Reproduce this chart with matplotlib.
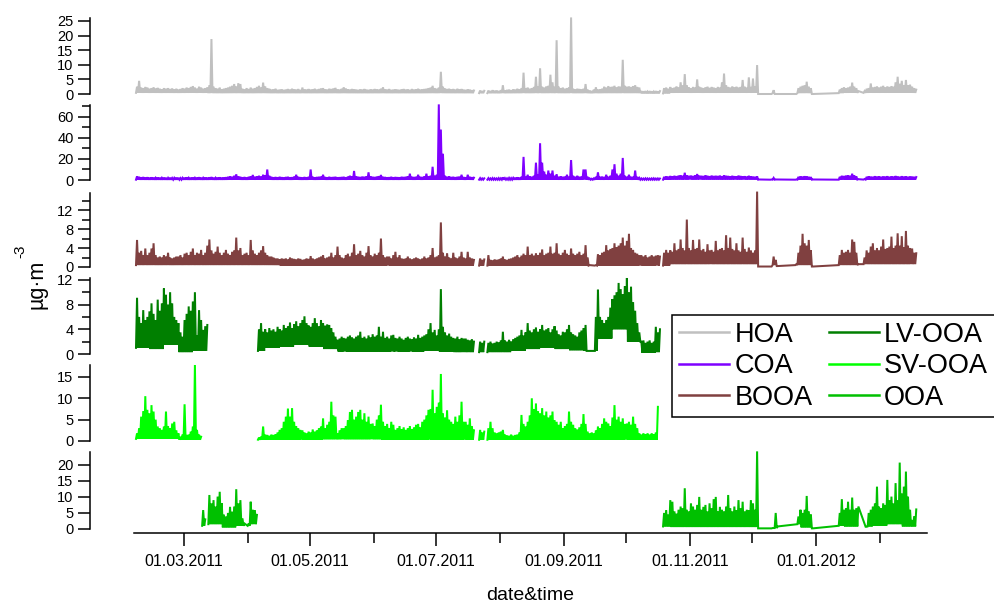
import numpy as np
import matplotlib
matplotlib.use('Agg')
import matplotlib.pyplot as plt
import matplotlib.dates as mdates
from matplotlib.lines import Line2D
from matplotlib.ticker import FixedLocator, NullLocator

plt.rcParams['font.family'] = ['Liberation Sans', 'DejaVu Sans']
plt.rcParams['mathtext.default'] = 'regular'

nan = np.nan
# day 0 = 06.02.2011 ; one "hi" value per day (daily peak), -1 = no sample (line joins), nan = break
start_date = '2011-02-06'
names = ['HOA', 'COA', 'BOOA', 'LV-OOA', 'SV-OOA', 'OOA']
colors = ['#c0c0c0', '#7f00ff', '#804040', '#007f00', '#00ff00', '#00c000']

hoa_hi = [
 2.5, 4.5, 2.2, 2.0, 2.4, 2.2, 1.8, 2.0, 2.3, 1.9, 2.1, 1.8, 1.6, 2.0,
 1.8, 2.0, 1.7, 1.9, 1.6, 1.8, 1.5, 1.7, 2.0, 1.8, 2.2, 2.0, 2.4, 2.7,
 2.2, 1.8, 2.5, 2.2, 1.8, 2.0, 2.3, 3.0, 18.8, 2.5, 2.0, 1.8, 2.2, 1.6,
 1.8, 2.0, 2.2, 2.5, 2.8, 3.4, 2.6, 3.7, 3.4, 1.8, 1.6, 2.0, 1.7, 2.2,
 1.8, 2.0, 2.4, 2.8, 2.2, 3.9, 2.6, 2.0, 1.8, 1.5, 1.6, 1.8, 1.4, 1.5,
 1.6, 1.4, 1.5, 1.7, 1.5, 1.8, 1.6, 1.5, 1.7, 1.4, 2.2, 1.6, 1.5, 1.7,
 1.5, 1.6, 1.8, 1.5, 1.7, 1.9, 2.0, 1.6, 1.5, 1.8, 1.7, 1.9, 2.1, 1.6,
 1.5, 1.8, 2.3, 1.9, 1.6, 1.5, 1.7, 1.6, 1.5, 1.4, 1.6, 1.5, 1.7, 1.5,
 1.4, 1.6, 1.5, 1.7, 1.6, 1.5, 1.8, 2.3, 1.6, 1.5, 1.7, 1.4, 1.5, 1.6,
 1.5, 1.4, 1.6, 1.7, 1.5, 1.6, 1.4, 1.7, 1.5, 1.6, 1.8, 1.5, 1.6, 1.7,
 1.8, 2.0, 2.2, 2.8, 2.0, 1.8, 2.2, 7.6, 2.5, 1.9, 1.7, 1.8, 1.6, 1.7,
 1.5, 1.8, 1.6, 1.7, 1.5, 1.4, 1.6, 1.5, 1.3, 1.2, nan, nan, 1.2, 1.0,
 1.1, nan, 1.2, 1.0, 1.3, 1.1, 1.2, 1.0, 1.3, 3.0, 1.2, 1.4, 1.5, 1.3,
 1.6, 1.5, 1.8, 1.6, 2.0, 7.3, 2.0, 2.2, 1.8, 2.0, 2.4, 5.9, 2.5, 8.8,
 2.5, 2.2, 2.6, 2.8, 6.6, 4.0, 2.5, 18.4, 2.5, 2.0, 2.2, 1.8, 2.0, 2.3,
 26.2, 1.8, 1.6, 1.8, 1.7, 1.6, 1.8, 3.4, 1.5, 1.2, 1.0, 1.5, 2.3, 1.5,
 1.6, 1.8, 2.5, 2.2, 2.7, 2.4, 2.5, 2.8, 2.3, 2.6, 2.5, 11.7, 2.8, 2.5,
 2.6, 2.4, 2.7, 3.0, 2.4, 2.2, 1.0, 0.9, 1.0, 0.8, 1.0, 0.9, 0.8, 1.0,
 0.9, 1.0, nan, 2.0, 2.2, 1.8, 2.4, 2.0, 2.2, 2.6, 2.3, 4.0, 3.0, 6.8,
 3.0, 2.3, 2.0, 2.4, 2.2, 5.0, 2.5, 2.2, 2.0, 2.3, 2.5, 2.1, 2.4, 2.2,
 2.0, 2.4, 2.2, 4.0, 7.0, 3.0, 2.4, 2.2, 2.6, 2.3, 2.5, 2.2, 2.4, 4.8,
 2.5, 2.2, 5.7, 2.4, 5.3, 2.5, 9.9, 0.0, -1, -1, -1, -1, -1, 0.0,
 1.3, 0.0, -1, -1, -1, -1, -1, -1, -1, -1, -1, 0.0, 2.0, 2.5,
 2.8, 3.0, 4.2, 2.5, 2.0, 0.0, -1, -1, -1, -1, -1, -1, -1, -1,
 -1, -1, -1, -1, 1.5, 2.0, 2.3, 2.0, 2.2, 2.5, 3.9, 2.5, 2.0, 1.0,
 -1, -1, 1.0, 1.8, 2.0, 3.6, 2.2, 2.4, 2.6, 2.2, 2.5, 2.8, 2.3, 2.6,
 2.4, 2.7, 2.5, 4.0, 5.9, 3.5, 4.5, 3.0, 4.8, 3.0, 3.2, 2.5, 2.0, 1.5,
]
coa_hi = [
 3.5, 3.0, 2.5, 2.8, 2.4, 2.6, 2.2, 2.5, 2.3, 2.0, 2.4, 2.2, 2.0, 2.3,
 2.1, 2.0, 2.2, 1.9, 2.0, 2.3, 2.1, 1.8, 2.0, 2.2, 2.5, 2.0, 2.2, 2.4,
 2.0, 2.3, 2.6, 2.2, 2.0, 2.4, 2.2, 2.5, 2.8, 2.2, 2.0, 2.3, 2.5, 2.2,
 2.4, 2.6, 3.0, 3.5, 3.0, 4.0, 5.4, 3.5, 3.0, 2.5, 2.8, 2.4, 3.0, 3.5,
 4.8, 3.0, 3.5, 4.0, 3.2, 5.0, 4.5, 10.0, 4.0, 3.0, 2.5, 2.8, 2.5, 3.0,
 2.6, 2.4, 2.8, 3.0, 2.5, 2.6, 3.2, 5.0, 3.0, 2.6, 2.4, 2.8, 2.5, 3.0,
 10.0, 3.0, 2.5, 2.8, 3.0, 3.2, 5.0, 2.8, 2.5, 3.0, 2.6, 2.8, 3.0, 2.5,
 2.6, 2.8, 3.0, 2.5, 3.2, 4.0, 3.5, 8.6, 3.5, 3.0, 2.8, 3.2, 3.0, 3.5,
 7.3, 3.5, 3.0, 2.8, 3.2, 3.6, 4.8, 3.0, 2.8, 2.5, 2.6, 3.0, 2.5, 2.8,
 2.6, 2.5, 3.0, 2.8, 3.0, 3.5, 6.0, 3.0, 2.8, 3.0, 5.0, 3.0, 2.8, 3.5,
 6.0, 3.5, 4.0, 12.6, 4.0, 5.0, 72.0, 48.0, 25.0, 4.0, 3.0, 3.5, 2.8, 3.0,
 2.6, 3.0, 3.2, 5.0, 2.8, 2.5, 5.0, 3.0, 2.6, 2.2, nan, nan, 1.8, 1.5,
 1.6, nan, 1.8, 1.5, 1.8, 1.6, 1.5, 1.8, 1.6, 2.5, 1.8, 1.6, 2.0, 1.8,
 2.0, 2.2, 2.5, 2.2, 3.0, 22.0, 3.0, 5.0, 3.5, 3.0, 4.0, 16.5, 5.0, 35.0,
 16.5, 8.0, 5.0, 9.0, 6.0, 9.0, 4.0, 5.5, 3.0, 3.5, 3.0, 3.2, 5.0, 3.0,
 19.0, 4.0, 3.0, 4.0, 3.0, 3.2, 10.0, 10.0, 3.0, 1.5, 1.2, 1.5, 3.0, 7.3,
 3.0, 3.2, 2.8, 5.0, 3.0, 4.0, 10.0, 15.0, 6.0, 4.0, 6.0, 21.0, 4.0, 3.0,
 5.0, 3.0, 3.0, 9.0, 3.0, 2.0, 1.5, 1.4, 1.6, 1.5, 1.4, 1.5, 1.6, 1.4,
 1.5, 1.4, nan, 3.0, 3.5, 3.2, 3.8, 3.5, 4.0, 3.6, 4.2, 4.5, 4.0, 6.9,
 4.5, 4.0, 4.2, 3.8, 4.5, 5.7, 4.2, 4.0, 3.8, 4.5, 4.0, 3.6, 4.2, 3.8,
 4.0, 3.8, 4.2, 3.6, 4.5, 4.0, 3.8, 3.5, 4.0, 3.6, 3.5, 4.2, 3.8, 3.5,
 3.6, 3.2, 4.0, 3.5, 3.2, 3.0, 3.5, 0.5, -1, -1, -1, -1, -1, 0.5,
 2.0, 0.5, -1, -1, -1, -1, -1, -1, -1, -1, -1, 0.5, 3.0, 3.5,
 3.2, 3.6, 3.5, 3.0, 2.8, 0.5, -1, -1, -1, -1, -1, -1, -1, -1,
 -1, -1, -1, -1, 3.0, 4.0, 3.8, 4.2, 4.5, 4.0, 6.0, 4.5, 3.5, 0.8,
 -1, -1, 1.0, 3.0, 3.5, 3.2, 3.0, 3.6, 3.2, 3.5, 3.0, 3.4, 3.2, 3.6,
 3.0, 3.5, 3.2, 3.8, 3.4, 3.0, 3.6, 3.2, 3.5, 3.0, 3.4, 3.2, 3.0, 2.8,
]
booa_hi = [
 5.7, 3.0, 3.4, 2.5, 3.9, 2.5, 3.0, 3.9, 5.0, 2.5, 2.0, 2.2, 2.0, 2.5,
 2.2, 3.0, 2.0, 1.8, 2.0, 2.2, 2.2, 2.5, 2.0, 2.8, 3.0, 2.5, 3.2, 3.9,
 2.5, 3.0, 2.8, 3.6, 2.5, 3.0, 4.5, 5.8, 3.5, 2.8, 3.2, 4.3, 3.0, 2.5,
 3.0, 3.6, 2.8, 2.5, 3.2, 3.5, 6.2, 3.5, 4.0, 2.5, 2.8, 3.0, 2.5, 5.7,
 3.5, 2.8, 2.5, 3.0, 3.5, 4.4, 3.0, 2.5, 2.2, 2.2, 2.0, 1.8, 1.8, 1.6,
 1.8, 1.7, 1.8, 1.6, 2.0, 1.8, 1.7, 1.6, 1.8, 1.7, 1.5, 1.6, 1.8, 1.7,
 2.3, 1.8, 1.6, 1.8, 2.0, 2.2, 2.5, 1.8, 2.0, 2.2, 3.0, 2.0, 2.5, 4.3,
 2.5, 2.0, 1.8, 2.5, 2.8, 2.2, 3.0, 4.8, 2.5, 2.8, 3.4, 2.5, 2.2, 3.0,
 4.4, 2.5, 2.2, 2.8, 2.5, 3.0, 6.0, 2.5, 2.0, 2.2, 2.2, 1.8, 2.5, 3.2,
 2.0, 2.5, 1.8, 1.7, 1.8, 2.2, 1.8, 1.6, 1.8, 2.0, 1.8, 1.6, 1.8, 2.2,
 1.8, 2.0, 2.5, 4.0, 2.0, 2.2, 2.5, 9.4, 3.0, 2.2, 2.9, 2.0, 1.8, 3.0,
 2.0, 1.8, 2.2, 3.2, 2.0, 1.8, 3.2, 2.0, 1.8, 1.5, nan, nan, 1.8, 1.5,
 1.6, nan, 2.5, 1.5, 1.4, 1.6, 1.5, 1.6, 1.8, 2.2, 1.6, 1.5, 1.7, 1.8,
 2.0, 2.2, 2.5, 2.0, 2.4, 2.8, 2.5, 4.3, 2.5, 2.8, 2.4, 2.9, 2.5, 3.0,
 3.7, 2.5, 2.8, 3.0, 4.3, 2.8, 3.0, 5.0, 2.8, 2.5, 3.0, 3.6, 2.8, 2.5,
 3.9, 2.8, 2.5, 2.8, 3.2, 2.5, 2.8, 4.6, 2.0, 0.4, -1, -1, 0.4, 2.7,
 2.5, 3.0, 3.2, 4.6, 3.5, 3.8, 4.0, 5.0, 4.2, 4.5, 5.0, 6.2, 4.5, 5.5,
 7.0, 4.0, 3.6, 3.0, 2.8, 2.5, 2.5, 2.2, 2.5, 2.0, 2.2, 2.5, 2.2, 2.4,
 2.5, 2.2, nan, 3.0, 3.6, 3.0, 3.5, 3.2, 5.0, 3.5, 3.8, 5.8, 4.0, 3.5,
 10.0, 4.0, 3.5, 5.7, 3.8, 4.0, 5.8, 3.5, 3.8, 3.2, 4.8, 3.5, 3.6, 3.2,
 5.5, 3.5, 3.8, 4.0, 3.5, 6.7, 4.0, 6.2, 3.8, 3.5, 5.0, 3.5, 3.2, 6.2,
 3.8, 3.2, 4.1, 3.5, 3.0, 3.5, 15.9, 0.1, -1, -1, -1, -1, -1, 0.1,
 2.2, 1.5, 0.2, -1, -1, -1, -1, -1, -1, -1, -1, 0.6, 3.0, 4.5,
 7.0, 5.0, 4.5, 5.7, 3.5, 0.1, -1, -1, -1, -1, -1, -1, -1, -1,
 -1, -1, -1, -1, 2.5, 3.6, 3.0, 3.2, 3.6, 3.0, 5.8, 5.3, 3.0, 0.6,
 -1, -1, 2.0, 3.5, 3.0, 4.3, 5.0, 3.5, 4.0, 3.5, 4.3, 5.8, 3.8, 4.0,
 4.3, 6.4, 4.0, 4.5, 7.1, 4.5, 6.5, 4.2, 7.6, 4.5, 4.0, 3.9, 3.0, 2.9,
]
lvooa_hi = [
 9.1, 6.0, 5.0, 7.1, 5.5, 6.0, 6.9, 8.2, 6.5, 5.5, 8.8, 7.0, 8.2, 10.6,
 9.6, 8.0, 10.0, 8.2, 6.0, 5.5, 5.0, 3.5, 2.8, 5.5, 6.5, 7.7, 7.0, 8.5,
 10.0, 3.0, 7.1, 5.5, 3.9, 4.5, 4.7, nan, nan, nan, nan, nan, nan, nan,
 nan, nan, nan, nan, nan, nan, nan, nan, nan, nan, nan, nan, nan, nan,
 nan, nan, nan, 4.0, 5.0, 3.6, 4.0, 3.5, 4.2, 3.8, 4.0, 3.6, 4.4, 4.0,
 3.8, 4.7, 4.2, 4.5, 5.1, 4.2, 4.8, 5.3, 4.5, 5.0, 5.5, 6.1, 5.0, 4.6,
 4.4, 5.0, 5.8, 5.0, 4.5, 5.5, 5.0, 4.6, 4.8, 4.7, 4.2, 3.5, 2.8, 2.3,
 2.5, 2.8, 2.6, 2.5, 2.8, 3.0, 2.7, 2.5, 2.8, 3.0, 3.6, 2.6, 2.8, 2.5,
 3.0, 2.7, 3.2, 2.8, 3.0, 4.4, 2.8, 3.6, 2.6, 2.8, 2.5, 3.0, 3.1, 2.6,
 2.5, 2.8, 2.5, 2.3, 2.6, 2.8, 2.5, 2.4, 2.7, 2.5, 3.1, 2.6, 2.8, 3.0,
 3.2, 4.0, 5.0, 3.5, 3.9, 3.0, 4.0, 10.5, 4.4, 3.5, 3.0, 3.3, 2.8, 2.6,
 2.5, 2.8, 2.4, 2.6, 2.5, 2.5, 2.3, 2.2, 2.4, 2.0, nan, nan, 2.0, 1.8,
 2.0, nan, 1.8, 2.0, 1.7, 1.8, 2.0, 1.9, 2.2, 3.6, 2.2, 2.0, 2.3, 2.0,
 2.4, 2.6, 2.8, 3.0, 3.9, 3.0, 3.5, 5.0, 3.8, 3.5, 4.0, 4.3, 3.6, 4.0,
 4.7, 3.8, 4.0, 4.2, 3.5, 4.0, 4.5, 3.8, 3.2, 3.0, 3.6, 3.5, 4.0, 4.7,
 3.5, 3.2, 3.0, 2.8, 3.5, 3.8, 4.2, 4.7, 0.5, -1, -1, -1, 6.0, 10.4,
 6.0, 5.5, 5.0, 5.5, 6.0, 7.5, 8.9, 9.5, 10.0, 11.5, 10.5, 9.7, 11.0, 12.3,
 10.0, 10.9, 8.4, 7.0, 5.0, 3.5, 2.0, 2.2, 1.8, 2.0, 2.2, 1.8, 2.0, 4.4,
 3.5, 4.0, nan, nan, nan, nan, nan, nan, nan, nan, nan, nan, nan, nan,
] + [nan] * 112
svooa_hi = [
 1.8, 3.0, 5.7, 7.0, 10.5, 7.3, 6.5, 8.4, 6.9, 5.0, 3.4, 3.0, 2.6, 3.4,
 6.9, 3.5, 3.0, 4.1, 4.5, 2.5, 1.8, 1.0, 1.5, 8.6, 1.4, 1.5, 2.2, 3.4,
 17.8, 2.6, 1.5, 1.0, nan, nan, nan, nan, nan, nan, nan, nan, nan, nan,
 nan, nan, nan, nan, nan, nan, nan, nan, nan, nan, nan, nan, nan, nan,
 nan, nan, nan, 0.8, 1.0, 3.4, 1.5, 1.4, 1.2, 1.5, 1.4, 1.6, 2.0, 2.6,
 3.0, 4.5, 5.7, 7.6, 5.7, 7.7, 4.5, 3.5, 3.0, 2.6, 2.5, 2.0, 1.8, 2.2,
 2.0, 2.7, 2.2, 2.5, 3.0, 3.4, 5.3, 3.0, 3.8, 4.5, 9.2, 6.0, 5.7, 1.8,
 2.5, 3.0, 3.0, 3.5, 4.9, 6.8, 7.3, 5.0, 5.7, 6.8, 7.3, 5.0, 6.5, 4.5,
 5.7, 4.0, 4.1, 3.5, 5.0, 6.0, 8.5, 4.5, 3.5, 4.0, 3.0, 4.5, 3.8, 2.6,
 3.0, 3.5, 2.8, 3.2, 2.6, 3.0, 3.5, 2.8, 3.2, 3.8, 4.0, 3.2, 4.5, 5.0,
 6.0, 7.3, 7.5, 12.0, 6.5, 8.0, 9.0, 15.7, 6.5, 5.5, 7.2, 5.0, 4.5, 4.0,
 5.7, 4.5, 6.0, 9.2, 4.5, 4.5, 3.8, 5.3, 3.5, 2.5, nan, nan, 2.6, 2.0,
 2.2, nan, 3.0, 4.5, 3.0, 2.0, 1.8, 2.0, 2.2, 2.6, 1.5, 1.3, 1.2, 1.5,
 1.2, 1.4, 1.5, 2.0, 6.1, 4.0, 3.4, 4.5, 6.0, 10.0, 7.5, 8.8, 7.0, 6.5,
 7.7, 6.0, 6.9, 5.5, 6.0, 6.9, 4.9, 4.5, 3.8, 4.5, 3.0, 3.5, 4.0, 6.9,
 4.5, 3.8, 3.0, 2.7, 3.2, 4.0, 6.3, 4.0, 2.2, 1.8, 2.0, 1.8, 2.5, 3.4,
 3.0, 4.0, 5.3, 4.5, 4.1, 3.5, 5.5, 8.4, 5.0, 5.7, 4.5, 5.3, 4.0, 4.1,
 4.5, 3.8, 5.7, 4.0, 3.0, 1.8, 1.5, 1.8, 1.6, 1.8, 1.5, 1.8, 1.6, 2.0,
 8.0, nan, nan, nan, nan, nan, nan, nan, nan, nan, nan, nan, nan, nan,
] + [nan] * 112
ooa_hi = [nan] * 28 + [
 nan, nan, nan, nan, 5.9, 3.0, nan, 10.6, 8.0, 9.0, 7.0, 10.1, 11.6, 8.0,
 4.5, 3.9, 5.0, 6.9, 5.4, 7.0, 12.4, 8.0, 9.0, 3.3, 1.7, -1, 1.7, 8.5,
 6.0, 5.9, 4.4, nan, nan, nan, nan, nan, nan, nan, nan, nan, nan, nan,
] + [nan] * 182 + [
 nan, nan, nan, 5.0, 5.9, 4.5, 9.0, 8.5, 5.5, 4.8, 6.0, 7.0, 6.5, 12.7,
 6.0, 5.5, 8.0, 7.0, 6.0, 7.5, 10.0, 6.0, 6.9, 7.5, 5.5, 8.0, 6.5, 9.3,
 10.0, 5.5, 6.9, 6.0, 5.5, 7.0, 10.6, 6.5, 5.5, 7.0, 5.9, 9.0, 6.5, 8.5,
 5.5, 6.0, 5.9, 9.0, 8.0, 6.0, 24.2, 0.2, -1, -1, -1, -1, -1, 0.2,
 0.3, 5.0, 0.8, -1, -1, -1, -1, -1, -1, -1, -1, -1, 3.9, 6.0,
 5.0, 6.0, 10.3, 5.5, 4.5, 0.2, -1, -1, -1, -1, -1, -1, -1, -1,
 -1, -1, -1, -1, 5.0, 9.3, 6.0, 6.5, 8.5, 6.0, 9.8, 6.0, 6.5, 7.0,
 -1, -1, -1, 0.7, 5.0, 6.0, 7.0, 8.0, 13.2, 7.0, 6.5, 8.0, 7.5, 15.3,
 9.0, 10.1, 8.0, 14.3, 9.0, 20.7, 11.0, 13.2, 17.9, 10.1, 6.0, 2.8, 4.0, 6.1,
]

# weekly lower envelope (night-time minima), one value per 7 days
hoa_lo = [0.4]*5 + [0.3]*30 + [0.2]*2 + [0.4]*6 + [0.3]*6 + [0.4]*5
coa_lo = [0.3]*37 + [0.5]*6 + [0.3]*6 + [0.4]*5
booa_lo = [0.4]*10 + [0.3]*27 + [0.6]*6 + [0.4]*7 + [0.6]*4
lvooa_lo = [1.0, 0.8, 1.5, 0.3, 0.5, 1.0, 1.0, 1.0, 0.5, 1.0, 1.2, 1.5, 1.2, 0.8,
            0.4, 0.4, 0.4, 0.4, 0.4, 0.4, 0.5, 0.4, 0.3, 0.3, 0.3, 0.3, 0.5, 0.8,
            1.0, 0.8, 0.6, 0.5, 2.5, 4.0, 2.0, 0.2, 0.3] + [0.3]*17
svooa_lo = [0.5]*3 + [0.3]*10 + [0.4]*4 + [0.3]*37
ooa_lo = [1.0]*5 + [1.5, 0.5, 1.0, 1.5] + [0.5]*27 + [0.8] + [0.6]*6 + \
         [0.2, 0.3, 1.5, 0.5, 0.5, 1.0, 0.8, 0.8, 1.0, 1.5, 0.8]

his = [hoa_hi, coa_hi, booa_hi, lvooa_hi, svooa_hi, ooa_hi]
los = [hoa_lo, coa_lo, booa_lo, lvooa_lo, svooa_lo, ooa_lo]
for h, l in zip(his, los):
    assert len(h) == 378, len(h)
    assert len(l) == 54, len(l)

t0 = mdates.date2num(np.datetime64(start_date))


def build(hi, lo):
    hi = np.array(hi, float)
    lo = np.repeat(np.array(lo, float), 7)[:len(hi)]
    days = np.arange(len(hi), dtype=float)
    keep = ~(hi < 0)
    d, h = days[keep], hi[keep]
    l = np.minimum(lo[keep], h)
    x = np.column_stack([d, d + 0.5]).ravel() + t0
    y = np.column_stack([l, h]).ravel()
    return x, y


W, H = 994, 603
fig = plt.figure(figsize=(W / 100, H / 100), dpi=100)

# panel geometry in pixels: y of zero, y of spine top, value at spine top
panels = [
    (94, 18.3, 25.9, [0, 5, 10, 15, 20, 25], []),
    (180, 105, 71.4, [0, 20, 40, 60], [10, 30, 50, 70]),
    (267, 193, 15.6, [0, 4, 8, 12], [2, 6, 10, 14]),
    (354, 278, 12.3, [0, 4, 8, 12], [2, 6, 10]),
    (441, 365, 17.8, [0, 5, 10, 15], []),
    (529, 452, 24.0, [0, 5, 10, 15, 20], []),
]
x_left, x_right = 134, 927
xlim = (t0 - 0.97, t0 + 382.7)
lines = []
for i, (y0, ytop, vtop, major, minor) in enumerate(panels):
    s = (y0 - ytop) / vtop
    pad_b = 4 if i == 5 else 3
    pad_t = 3
    bottom_px = y0 + pad_b
    top_px = ytop - pad_t
    ax = fig.add_axes([x_left / W, 1 - bottom_px / H, (x_right - x_left) / W,
                       (bottom_px - top_px) / H])
    ax.patch.set_alpha(0)
    x, y = build(his[i], los[i])
    ln, = ax.plot(x, y, color=colors[i], lw=1.45, solid_joinstyle='miter')
    lines.append(ln)
    ax.set_xlim(*xlim)
    ax.set_ylim(-pad_b / s, vtop + pad_t / s)
    for sp in ['top', 'right']:
        ax.spines[sp].set_visible(False)
    ax.spines['left'].set_position(('outward', 44 * 0.72))
    ax.spines['left'].set_bounds(0, vtop)
    ax.spines['left'].set_linewidth(1.1)
    ax.yaxis.set_major_locator(FixedLocator(major))
    if minor:
        ax.yaxis.set_minor_locator(FixedLocator(minor))
    else:
        ax.yaxis.set_minor_locator(NullLocator())
    ax.tick_params(axis='y', which='major', length=8.8, width=1.1, labelsize=10.5, pad=3)
    ax.tick_params(axis='y', which='minor', length=5.6, width=1.1)
    if i < 5:
        ax.spines['bottom'].set_visible(False)
        ax.set_xticks([])
    else:
        ax.spines['bottom'].set_linewidth(1.1)
        ax.xaxis.set_major_locator(mdates.MonthLocator(bymonth=[1, 3, 5, 7, 9, 11]))
        ax.xaxis.set_minor_locator(mdates.MonthLocator(bymonth=[2, 4, 6, 8, 10, 12]))
        ax.xaxis.set_major_formatter(mdates.DateFormatter('%d.%m.%Y'))
        ax.tick_params(axis='x', which='major', length=9.3, width=1.1, labelsize=11.5, pad=6)
        ax.tick_params(axis='x', which='minor', length=7.2, width=1.1)

handles = [Line2D([], [], color=c, lw=1.8) for c in colors]
leg = fig.legend(handles, names, loc='upper left', bbox_to_anchor=(672 / W, 1 - 315 / H),
                 ncol=2, fontsize=19.5, frameon=True, fancybox=False, edgecolor='black',
                 framealpha=1, handlelength=1.85, handletextpad=0.2, columnspacing=0.6,
                 labelspacing=0.2, borderpad=0.25, borderaxespad=0)
leg.get_frame().set_linewidth(1.1)

fig.text(530.5 / W, 1 - 600 / H, 'date&time', ha='center', va='baseline', fontsize=14)
fig.text(37 / W, 1 - 284 / H, 'µg·m', rotation=90, ha='center', va='center', fontsize=15.5)
fig.text(20 / W, 1 - 251.5 / H, '-3', rotation=90, ha='center', va='center', fontsize=11)

fig.savefig('out.png', dpi=100)
